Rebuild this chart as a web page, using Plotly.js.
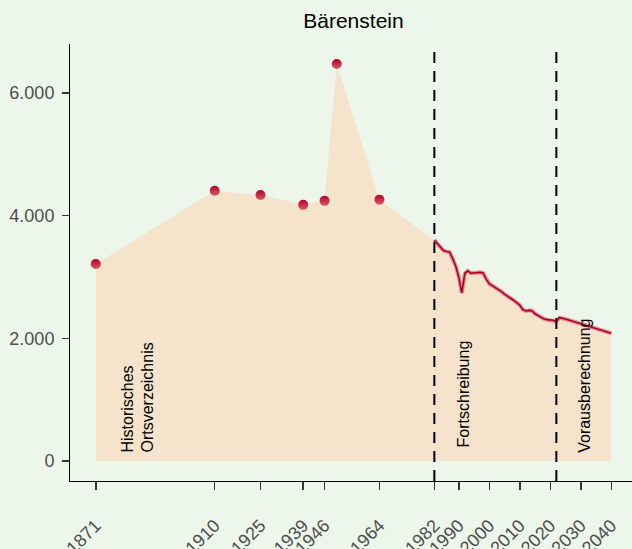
<!DOCTYPE html>
<html>
<head>
<meta charset="utf-8">
<script src="https://cdn.plot.ly/plotly-3.0.1.min.js"></script>
<style>html,body{margin:0;padding:0;background:#EDF6EB;}#chart{width:632px;height:549px;}</style>
</head>
<body>
<div id="chart"></div>
<script>
// Historical census points (Historisches Ortsverzeichnis)
const histYears = [1871, 1910, 1925, 1939, 1946, 1950, 1964];
const histValues = [3210, 4405, 4335, 4175, 4240, 6470, 4260];

// Annual updates (Fortschreibung)
const annualYears = [1982,1983,1984,1985,1986,1987,1988,1989,1990,1991,1992,1993,1994,1995,1996,1997,1998,1999,2000,2001,2002,2003,2004,2005,2006,2007,2008,2009,2010,2011,2012,2013,2014,2015,2016,2017,2018,2019,2020,2021,2022];
const annualValues = [3600,3545,3480,3430,3415,3405,3300,3180,3000,2740,3060,3100,3060,3065,3075,3075,3065,2960,2890,2860,2830,2800,2760,2720,2690,2650,2620,2580,2540,2470,2445,2455,2450,2400,2370,2340,2315,2305,2300,2295,2275];

// Projection (Vorausberechnung)
const projYears = [2023, 2025, 2030, 2035, 2040];
const projValues = [2335, 2315, 2240, 2165, 2082];

// Tick labels
const xTickYears = [1871, 1910, 1925, 1939, 1946, 1964, 1982, 1990, 2000, 2010, 2020, 2030, 2040];
const yTickValues = [0, 2000, 4000, 6000];
const phaseBreaks = [1982, 2022];

const allX = histYears.concat(annualYears, projYears);
const allY = histValues.concat(annualValues, projValues);
const lineX = annualYears.concat(projYears);
const lineY = annualValues.concat(projValues);

const FONT = 'Liberation Sans, Arial, Helvetica, sans-serif';

const traces = [
  {x: allX, y: allY, type: 'scatter', mode: 'lines', fill: 'tozeroy',
   fillcolor: '#F5E3CC', line: {width: 0, color: '#F5E3CC'}, hoverinfo: 'skip'},
  {x: lineX, y: lineY, type: 'scatter', mode: 'lines',
   line: {color: 'rgba(214,80,95,0.6)', width: 4}, hoverinfo: 'skip'},
  {x: lineX, y: lineY, type: 'scatter', mode: 'lines',
   line: {color: '#B0002A', width: 1.6}, hoverinfo: 'skip'},
  {x: histYears, y: histValues, type: 'scatter', mode: 'markers',
   marker: {size: 10, color: '#B5002A', line: {width: 0},
            gradient: {type: 'vertical', color: '#D85A66'}}, hoverinfo: 'skip'}
];

const shapes = phaseBreaks.map(v => ({
  type: 'line', xref: 'x', yref: 'paper', x0: v, x1: v, y0: 0, y1: 1,
  line: {color: '#000000', width: 2, dash: '11px,8px'}
}));

const annFont = {family: FONT, size: 16, color: '#000000'};
const annotations = [
  {text: 'Historisches<br>Ortsverzeichnis', x: 1884.7, y: 0, xref: 'x', yref: 'y',
   textangle: -90, align: 'left', xanchor: 'center', yanchor: 'bottom', yshift: 6,
   showarrow: false, font: annFont},
  {text: 'Fortschreibung', x: 1991.7, y: 0, xref: 'x', yref: 'y',
   textangle: -90, xanchor: 'center', yanchor: 'bottom', yshift: 12,
   showarrow: false, font: annFont},
  {text: 'Vorausberechnung', x: 2031, y: 0, xref: 'x', yref: 'y',
   textangle: -90, xanchor: 'center', yanchor: 'bottom', yshift: 6,
   showarrow: false, font: annFont}
];

const layout = {
  width: 632, height: 549,
  paper_bgcolor: '#EDF6EB', plot_bgcolor: '#EDF6EB',
  margin: {l: 70, r: 0, t: 44, b: 68, pad: 0},
  showlegend: false,
  separators: ',.',
  font: {family: FONT},
  title: {text: 'Bärenstein', font: {family: FONT, size: 21, color: '#000000'},
          x: 0.5593, xref: 'container', xanchor: 'center',
          y: 0.962, yref: 'container', yanchor: 'middle'},
  xaxis: {range: [1862.55, 2046.8], tickmode: 'array', tickvals: xTickYears,
          ticktext: xTickYears.map(String), tickangle: -45,
          showgrid: false, zeroline: false, showline: true, linecolor: '#000000', linewidth: 1,
          ticks: 'outside', ticklen: 8, tickwidth: 1.5, tickcolor: '#333333',
          ticklabelstandoff: 18,
          tickfont: {family: FONT, size: 18, color: '#4D4D4D'}},
  yaxis: {range: [-326, 6797], tickmode: 'array', tickvals: yTickValues, tickformat: ',d',
          showgrid: false, zeroline: false, showline: true, linecolor: '#000000', linewidth: 1,
          ticks: 'outside', ticklen: 7, tickwidth: 1.5, tickcolor: '#333333',
          ticklabelstandoff: 4,
          tickfont: {family: FONT, size: 18, color: '#4D4D4D'}},
  shapes: shapes,
  annotations: annotations
};

Plotly.newPlot('chart', traces, layout, {displayModeBar: false, staticPlot: true});
</script>
</body>
</html>
